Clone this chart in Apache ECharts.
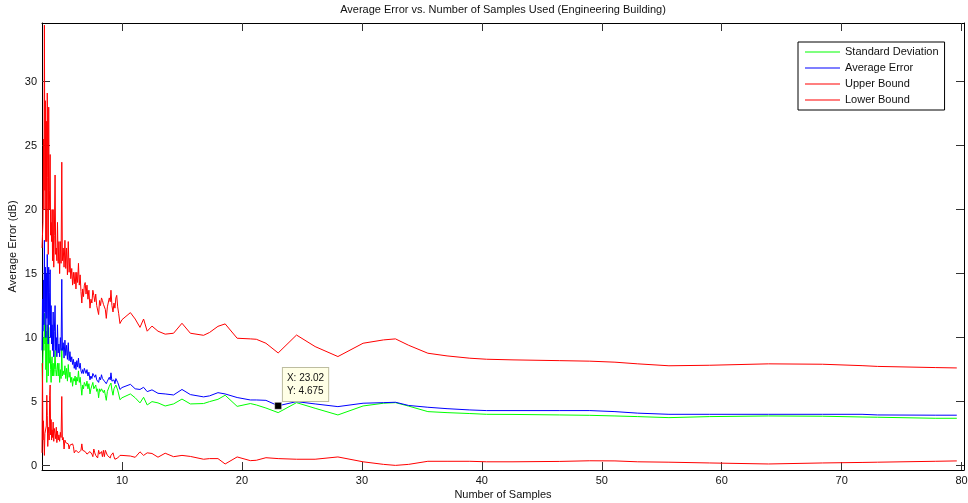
<!DOCTYPE html>
<html>
<head>
<meta charset="utf-8">
<script src="https://cdn.jsdelivr.net/npm/echarts@6/dist/echarts.min.js"></script>
<style>
  html, body { margin: 0; padding: 0; background: #fff; }
  #chart { width: 968px; height: 503px; }
</style>
</head>
<body>
<div id="chart"></div>
<script>
// Number of samples used (shared x values for every curve)
const samples = [
  3.33,3.37,3.41,3.45,3.49,3.53,3.57,3.61,3.65,3.69,3.73,3.77,3.81,3.85,3.89,3.93,3.97,4.01,4.05,4.09,
  4.13,4.17,4.21,4.26,4.31,4.36,4.42,4.47,4.52,4.57,4.62,4.68,4.74,4.80,4.86,4.92,4.98,
  5.03,5.10,5.17,5.24,5.31,5.38,5.45,5.52,5.59,5.66,5.73,5.81,5.88,5.95,6.02,6.09,6.16,6.23,6.30,6.37,
  6.44,6.51,6.58,6.65,6.72,6.79,6.86,6.93,7.00,7.08,7.16,7.24,7.33,7.41,7.49,7.57,7.65,7.73,7.81,7.89,
  7.97,8.05,8.13,8.21,8.29,8.37,8.45,8.53,8.61,8.69,8.78,8.86,8.94,9.02,9.08,9.16,9.25,9.33,9.41,9.49,
  9.56,9.64,9.72,9.83,
  10.0,10.7,11.1,11.5,11.8,12.1,12.5,13.0,13.6,14.3,15.0,15.7,16.8,17.3,18.0,18.6,19.6,20.7,21.2,22.0,
  23.02,24.55,26.1,28.0,30.1,31.8,32.8,33.9,35.5,37.1,39.0,40.4,42.6,46.5,49.0,51.1,53.0,55.6,59.0,63.9,
  68.4,71.7,73.0,77.8,79.6
];

// Standard deviation (dB)
const stdDev = [
  8.0,6.5,8.5,10.0,9.0,11.9,9.5,11.0,7.5,10.5,6.5,11.0,9.5,7.0,10.8,8.5,8.0,9.0,7.5,6.5,
  8.0,8.5,7.0,8.0,7.0,7.5,9.0,7.5,7.0,7.5,8.0,7.0,8.0,6.5,7.5,6.8,9.15,
  7.0,7.4,7.1,7.8,6.8,7.6,6.6,7.9,6.9,7.3,6.5,6.9,6.2,6.8,6.6,7.0,6.3,6.9,6.6,7.4,
  6.5,6.9,6.2,5.5,6.3,6.0,6.5,6.6,6.2,6.6,6.0,6.4,5.6,6.0,5.9,6.5,6.0,5.9,6.3,5.8,
  6.0,5.3,6.0,5.8,6.0,6.1,5.7,5.9,5.5,5.1,5.8,5.8,6.2,6.1,6.45,5.9,5.5,6.0,5.9,6.3,
  6.45,5.9,5.6,5.15,
  5.3,5.6,5.3,4.9,5.34,4.74,5.0,4.9,4.66,4.82,5.2,4.82,4.85,5.0,5.18,5.5,4.63,4.85,4.74,4.5,
  4.14,4.92,4.48,3.96,4.66,4.875,4.92,4.65,4.22,4.14,4.07,4.01,4.0,3.96,3.93,3.88,3.83,3.75,3.83,3.88,
  3.86,3.8,3.78,3.7,3.7
];

// Average error (dB)
const avgError = [
  9.0,13.0,10.5,14.5,11.0,17.6,12.0,15.5,10.0,15.0,11.5,16.5,12.0,9.5,15.5,11.0,13.5,15.3,10.0,12.5,
  9.5,11.0,9.0,12.0,8.5,10.5,12.5,9.0,10.0,8.5,11.0,8.8,9.5,8.5,10.0,9.0,14.55,
  9.0,9.6,8.4,9.8,8.6,9.4,8.3,9.6,8.2,8.9,8.1,8.5,7.9,8.3,7.6,8.1,7.5,8.2,7.7,8.4,
  7.6,8.0,7.4,7.2,7.5,7.2,7.6,7.7,7.2,7.5,7.0,7.3,6.7,7.0,6.8,7.2,7.3,6.9,7.1,6.7,
  6.6,6.5,6.9,6.7,7.1,6.8,6.9,6.6,6.7,6.4,6.6,6.45,6.9,6.7,7.25,6.6,6.5,6.7,6.4,6.8,
  6.85,6.5,6.3,5.95,
  6.1,6.35,6.0,5.95,6.12,5.78,5.92,5.65,5.6,5.52,5.95,5.55,5.37,5.45,5.7,5.6,5.32,5.13,5.13,5.1,
  4.675,5.0,4.82,4.61,4.875,4.92,4.95,4.7,4.56,4.45,4.35,4.3,4.3,4.3,4.3,4.22,4.1,4.01,4.01,4.01,
  4.01,4.01,3.96,3.94,3.94
];

// Upper bound (dB)
const upperBound = [
  17.0,18.0,19.0,25.5,20.0,34.4,21.5,28.5,17.5,26.9,17.5,29.1,22.5,16.5,28.0,20.0,21.5,24.3,18.0,19.0,
  17.5,20.0,16.0,20.0,15.5,18.0,22.7,16.5,17.0,16.0,19.0,15.8,17.5,15.0,17.5,15.8,23.7,
  16.0,17.0,15.5,17.6,15.4,17.0,14.9,17.5,15.1,16.2,14.6,15.4,14.1,15.1,14.2,15.1,13.8,15.1,14.3,15.8,
  14.1,14.9,13.6,12.7,13.8,13.2,14.1,14.3,13.4,14.1,13.0,13.7,12.3,13.0,12.7,13.7,13.3,12.8,13.4,12.5,
  12.6,11.8,12.9,12.5,13.1,12.9,12.6,12.5,12.2,11.5,12.4,12.25,13.1,12.8,13.7,12.5,12.0,12.7,12.3,13.1,
  13.3,12.4,11.9,11.1,
  11.4,11.95,11.45,10.8,11.45,10.5,10.9,10.5,10.27,10.34,11.12,10.34,10.18,10.4,10.88,11.07,9.95,9.9,9.87,9.56,
  8.8,10.2,9.3,8.52,9.56,9.82,9.9,9.4,8.78,8.57,8.39,8.31,8.26,8.2,8.16,8.08,7.95,7.8,7.84,7.95,
  7.92,7.81,7.75,7.66,7.63
];

// Lower bound (dB)
const lowerBound = [
  1.0,8.0,2.0,3.5,2.0,0.8,2.5,2.5,2.5,3.1,5.5,3.9,1.5,2.5,3.0,2.0,5.5,6.3,2.4,3.6,
  2.0,2.8,2.2,3.4,1.9,2.9,2.5,2.1,3.0,1.8,2.7,2.0,2.4,1.9,2.6,2.2,5.4,
  2.0,2.2,1.3,2.0,1.8,1.8,1.7,1.7,1.3,1.6,1.6,1.6,1.7,1.5,1.0,1.1,1.2,1.3,1.1,1.0,
  1.1,1.1,1.2,1.7,1.2,1.2,1.1,1.1,1.0,0.9,1.0,0.9,1.1,1.0,0.9,0.7,1.3,1.0,0.8,0.9,
  0.6,1.2,0.9,0.9,1.1,0.7,1.2,0.7,1.2,1.3,0.8,0.65,0.7,0.6,0.8,0.7,1.0,0.7,0.5,0.5,
  0.4,0.6,0.7,0.8,
  0.8,0.75,0.65,1.08,0.8,1.0,0.95,0.66,0.97,0.7,0.8,0.72,0.5,0.55,0.55,0.13,0.68,0.39,0.42,0.62,
  0.55,0.5,0.5,0.68,0.3,0.1,0.02,0.1,0.34,0.34,0.34,0.3,0.3,0.33,0.38,0.37,0.3,0.27,0.21,0.13,
  0.21,0.25,0.27,0.34,0.37
];

const xTicks = [10, 20, 30, 40, 50, 60, 70, 80];
const yTicks = [0, 5, 10, 15, 20, 25, 30];

// Data cursor pinned on the average-error curve
const tipX = 23.02;
const tipY = 4.675;

const FONT = "'Liberation Sans', Arial, sans-serif";
const TEXT = '#111';

const pairs = ys => samples.map((x, i) => [x, ys[i]]);

function frameAxis(extra) {
  return Object.assign({
    type: 'value',
    axisLine: { show: true, onZero: false, lineStyle: { color: '#000', width: 1 } },
    axisTick: { show: true, inside: true, length: 8, lineStyle: { color: '#333' } },
    splitLine: { show: false },
    axisLabel: { show: false }
  }, extra);
}

const xRange = { min: 3.33, max: 80.2 };
const yRange = { min: -0.34, max: 34.57 };

// Flat line swatch for legend entries
const LINE_ICON = 'path://M0,0L35,0L35,1L0,1Z';

const chart = echarts.init(document.getElementById('chart'), null, { renderer: 'canvas' });

chart.setOption({
  animation: false,
  backgroundColor: '#fff',
  textStyle: { fontFamily: FONT },
  title: {
    text: 'Average Error vs. Number of Samples Used (Engineering Building)',
    left: 503,
    top: 4,
    padding: 0,
    textAlign: 'center',
    textStyle: { fontSize: 11, fontWeight: 'normal', color: TEXT, fontFamily: FONT }
  },
  grid: { left: 42, right: 4, top: 23, bottom: 33, outerBoundsMode: 'none' },
  legend: {
    orient: 'vertical',
    left: 798,
    top: 42,
    padding: [4, 6, 4, 7],
    itemGap: 4,
    itemWidth: 35,
    itemHeight: 1,
    icon: LINE_ICON,
    backgroundColor: '#fff',
    borderColor: '#000',
    borderWidth: 1,
    borderRadius: 0,
    textStyle: { fontSize: 11, color: TEXT, fontFamily: FONT, lineHeight: 12 },
    data: ['Standard Deviation', 'Average Error', 'Upper Bound', 'Lower Bound']
  },
  xAxis: [
    frameAxis(Object.assign({
      position: 'bottom',
      name: 'Number of Samples',
      nameLocation: 'middle',
      nameGap: 19,
      nameMoveOverlap: false,
      nameTextStyle: { fontSize: 11, color: TEXT, fontFamily: FONT },
      axisTick: { show: true, inside: true, length: 8, customValues: xTicks, lineStyle: { color: '#333' } },
      axisLabel: { show: true, customValues: xTicks, margin: 5, fontSize: 11, color: TEXT, fontFamily: FONT }
    }, xRange)),
    frameAxis(Object.assign({
      position: 'top',
      axisTick: { show: true, inside: true, length: 8, customValues: xTicks, lineStyle: { color: '#333' } }
    }, xRange))
  ],
  yAxis: [
    frameAxis(Object.assign({
      position: 'left',
      name: 'Average Error (dB)',
      nameLocation: 'middle',
      nameGap: 24,
      nameMoveOverlap: false,
      nameTextStyle: { fontSize: 11, color: TEXT, fontFamily: FONT },
      axisTick: { show: true, inside: true, length: 8, customValues: yTicks, lineStyle: { color: '#333' } },
      axisLabel: { show: true, customValues: yTicks, margin: 5, fontSize: 11, color: TEXT, fontFamily: FONT }
    }, yRange)),
    frameAxis(Object.assign({
      position: 'right',
      axisTick: { show: true, inside: true, length: 8, customValues: yTicks, lineStyle: { color: '#333' } }
    }, yRange))
  ],
  series: [
    {
      name: 'Standard Deviation', type: 'line', data: pairs(stdDev),
      symbol: 'none', lineStyle: { color: '#00ff00', width: 1 }, itemStyle: { color: '#00ff00' }
    },
    {
      name: 'Average Error', type: 'line', data: pairs(avgError),
      symbol: 'none', lineStyle: { color: '#0000ff', width: 1 }, itemStyle: { color: '#0000ff' },
      z: 3,
      markPoint: {
        symbol: 'rect',
        symbolSize: 7,
        itemStyle: { color: '#000', borderColor: '#fff', borderWidth: 0.5 },
        label: {
          show: true,
          position: [8.5, -34],
          align: 'left',
          verticalAlign: 'top',
          formatter: () => 'X: ' + tipX.toFixed(2) + '\nY: ' + tipY,
          fontSize: 10,
          lineHeight: 13,
          color: '#111',
          fontFamily: FONT,
          backgroundColor: '#ffffe6',
          borderColor: '#bdbda0',
          borderWidth: 1,
          padding: [4, 4, 3, 4]
        },
        data: [{ coord: [tipX, tipY] }]
      }
    },
    {
      name: 'Upper Bound', type: 'line', data: pairs(upperBound),
      symbol: 'none', lineStyle: { color: '#ff0000', width: 1 }, itemStyle: { color: '#ff0000' }
    },
    {
      name: 'Lower Bound', type: 'line', data: pairs(lowerBound),
      symbol: 'none', lineStyle: { color: '#ff0000', width: 1 }, itemStyle: { color: '#ff0000' }
    }
  ]
});
</script>
</body>
</html>
